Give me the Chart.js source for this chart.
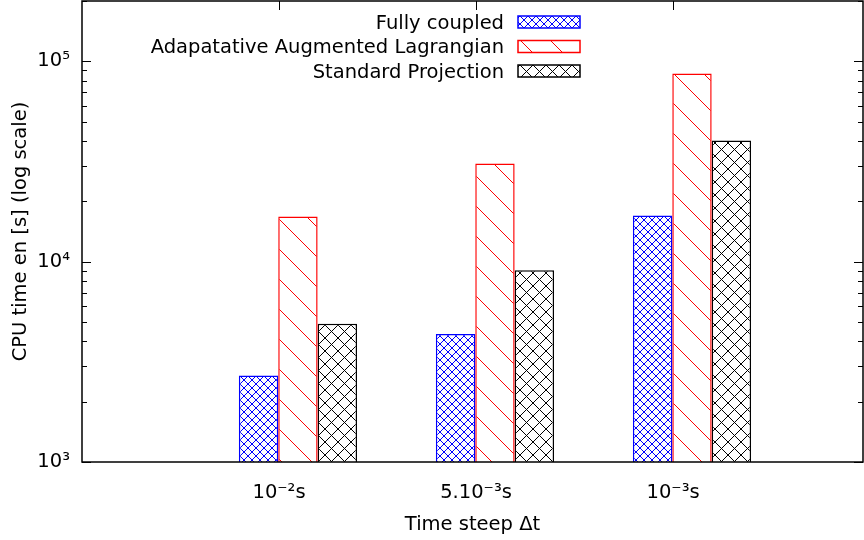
<!DOCTYPE html>
<html>
<head>
<meta charset="utf-8">
<script src="https://cdn.jsdelivr.net/npm/chart.js@4"></script>
<style>
  html, body { margin: 0; padding: 0; background: #fff; }
</style>
</head>
<body>
<canvas id="cpuChart" width="864" height="540"></canvas>
<script>
// DATA
const timeSteps = ["10⁻²s", "5.10⁻³s", "10⁻³s"];
const groupPos = [0, 1, 2];
const seriesNames = ["Fully coupled", "Adapatative Augmented Lagrangian", "Standard Projection"];
const fullyCoupled = [2700, 4350, 17000];
const augmentedLagrangian = [16800, 30900, 87000];
const standardProjection = [4900, 9050, 40200];
const yTickValues = [1e3, 1e4, 1e5];
const yTickLabels = ["10³", "10⁴", "10⁵"];

const FONT = { family: "'DejaVu Sans', sans-serif", size: 19.5 };

// PATTERNS

function hatch(color, period, cross) {
  const c = document.createElement("canvas");
  c.width = period;
  c.height = period;
  const g = c.getContext("2d");
  g.fillStyle = "#fff";
  g.fillRect(0, 0, period, period);
  g.strokeStyle = color;
  g.lineWidth = 1;
  g.beginPath();
  for (const k of [-period, 0, period]) {
    g.moveTo(k, 0);
    g.lineTo(k + period, period);
    if (cross) {
      g.moveTo(k + period, 0);
      g.lineTo(k, period);
    }
  }
  g.stroke();
  return g.createPattern(c, "repeat");
}

function points(values) {
  return groupPos.map((x, i) => ({ x: x, y: values[i] }));
}

function noPad(s) {
  s.paddingTop = 0;
  s.paddingBottom = 0;
  s.paddingLeft = 0;
  s.paddingRight = 0;
}

// PLUGINS

const frameTicks = {
  id: "frameTicks",
  afterDatasetsDraw(chart) {
    const { ctx, chartArea: a, scales: { x, y } } = chart;
    ctx.save();
    ctx.strokeStyle = "#000";
    ctx.lineWidth = 1;
    ctx.beginPath();
    y.ticks.forEach(t => {
      const py = Math.round(y.getPixelForValue(t.value)) + 0.5;
      const major = Math.abs(Math.log10(t.value) % 1) < 1e-9;
      const len = major ? 9 : 5;
      ctx.moveTo(a.left, py);
      ctx.lineTo(a.left + len, py);
      ctx.moveTo(a.right, py);
      ctx.lineTo(a.right - len, py);
    });
    x.ticks.forEach(t => {
      const px = Math.round(x.getPixelForValue(t.value)) + 0.5;
      ctx.moveTo(px, a.top);
      ctx.lineTo(px, a.top + 9);
    });
    ctx.stroke();
    ctx.lineWidth = 1.5;
    ctx.strokeRect(a.left, a.top, a.right - a.left, a.bottom - a.top);
    ctx.restore();
  }
};

const gnuLegend = {
  id: "gnuLegend",
  afterDraw(chart) {
    const { ctx, chartArea: a } = chart;
    ctx.save();
    ctx.font = FONT.size + "px " + FONT.family;
    ctx.textAlign = "right";
    ctx.textBaseline = "middle";
    chart.data.datasets.forEach((ds, i) => {
      const cy = a.top + 21 + i * 24.5;
      ctx.fillStyle = "#000";
      ctx.fillText(ds.label, 504, cy + 1.5);
      ctx.fillStyle = ds.backgroundColor;
      ctx.fillRect(518, cy - 6, 62, 12);
      ctx.strokeStyle = ds.borderColor;
      ctx.lineWidth = 1.5;
      ctx.strokeRect(518, cy - 6, 62, 12);
    });
    ctx.restore();
  }
};

// CHART

new Chart(document.getElementById("cpuChart"), {
  type: "bar",
  data: {
    datasets: [
      {
        label: seriesNames[0],
        data: points(fullyCoupled),
        backgroundColor: hatch("#0000ff", 8, true),
        borderColor: "#0000ff",
        borderWidth: 1.5
      },
      {
        label: seriesNames[1],
        data: points(augmentedLagrangian),
        backgroundColor: hatch("#ff0000", 30, false),
        borderColor: "#ff0000",
        borderWidth: 1.5
      },
      {
        label: seriesNames[2],
        data: points(standardProjection),
        backgroundColor: hatch("#000000", 13, true),
        borderColor: "#000000",
        borderWidth: 1.5
      }
    ]
  },
  options: {
    responsive: false,
    animation: false,
    devicePixelRatio: 1,
    layout: { padding: { top: 1, right: 1, left: 0, bottom: 0 } },
    datasets: { bar: { barPercentage: 1, categoryPercentage: 0.6 } },
    plugins: {
      legend: { display: false },
      tooltip: { enabled: false }
    },
    scales: {
      x: {
        type: "linear",
        min: -1.096,
        max: 2.868,
        offset: false,
        grid: { display: false, drawTicks: false, offset: false },
        border: { display: false },
        afterBuildTicks: s => { s.ticks = groupPos.map(v => ({ value: v - 0.096 })); },
        afterFit: s => { s.height = 78; noPad(s); },
        ticks: {
          callback: (v, i) => timeSteps[i],
          autoSkip: false,
          maxRotation: 0,
          padding: 19,
          color: "#000",
          font: FONT
        },
        title: {
          display: true,
          text: "Time steep Δt",
          color: "#000",
          font: FONT,
          padding: { top: 0, bottom: 3 }
        }
      },
      y: {
        type: "logarithmic",
        min: 1000,
        max: 200000,
        grid: { display: false, drawTicks: false },
        border: { display: false },
        afterBuildTicks: s => {
          const list = [];
          for (let k = 3; k <= 5; k++) {
            for (let m = 1; m <= 9; m++) {
              const v = m * Math.pow(10, k);
              if (v <= 200000) list.push({ value: v });
            }
          }
          s.ticks = list;
        },
        afterFit: s => { s.width = 82; noPad(s); },
        ticks: {
          callback: v => {
            const i = yTickValues.indexOf(v);
            return i >= 0 ? yTickLabels[i] : "";
          },
          autoSkip: false,
          padding: 12,
          color: "#000",
          font: FONT
        },
        title: {
          display: true,
          text: "CPU time en [s] (log scale)",
          color: "#000",
          font: FONT,
          padding: { top: 9, bottom: 0 }
        }
      }
    }
  },
  plugins: [frameTicks, gnuLegend]
});
</script>
</body>
</html>
